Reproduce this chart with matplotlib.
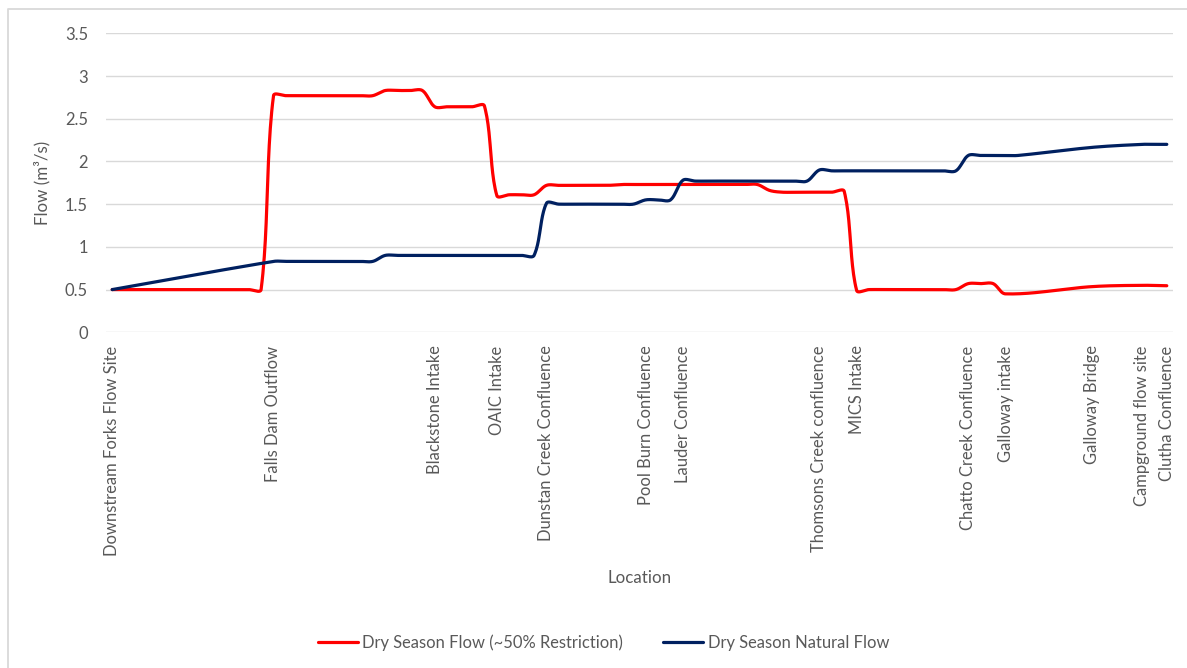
import numpy as np
import matplotlib
matplotlib.use("Agg")
import matplotlib.pyplot as plt
from matplotlib.lines import Line2D

plt.rcParams['font.family'] = ['Lato', 'DejaVu Sans']

nan = np.nan

# ---- data -------------------------------------------------------------
# 86 locations along the river (index 0..85); only some carry a name
label_index = [0, 13, 26, 31, 35, 43, 46, 57, 60, 69, 72, 79, 83, 85]
label_names = ["Downstream Forks Flow Site", "Falls Dam Outflow", "Blackstone Intake",
               "OAIC Intake", "Dunstan Creek Confluence", "Pool Burn Confluence",
               "Lauder Confluence", "Thomsons Creek confluence", "MICS Intake",
               "Chatto Creek Confluence", "Galloway intake", "Galloway Bridge",
               "Campground flow site", "Clutha Confluence"]

restricted_flow = (
    [0.50] * 13 +                  # 0-12
    [2.77] * 9 +                   # 13-21
    [2.83] * 4 +                   # 22-25
    [2.64] * 4 +                   # 26-29
    [2.65] +                       # 30
    [1.60] +                       # 31
    [1.61] * 3 +                   # 32-34
    [1.72] * 6 +                   # 35-40
    [1.73] * 12 +                  # 41-52
    [1.66] +                       # 53
    [1.64] * 5 +                   # 54-58
    [1.65] +                       # 59
    [0.49] +                       # 60
    [0.50] * 8 +                   # 61-68
    [0.57] * 3 +                   # 69-71
    [0.45] +                       # 72
    [nan] * 6 +                    # 73-78
    [0.535] +                      # 79
    [nan] * 3 +                    # 80-82
    [0.55] +                       # 83
    [nan] +                        # 84
    [0.545]                        # 85
)

natural_flow = (
    [0.50] +                       # 0
    [nan] * 12 +                   # 1-12
    [0.83] * 9 +                   # 13-21
    [0.90] * 13 +                  # 22-34
    [1.51] +                       # 35
    [1.50] * 7 +                   # 36-42
    [1.55] * 3 +                   # 43-45
    [1.78] +                       # 46
    [1.77] * 10 +                  # 47-56
    [1.90] +                       # 57
    [1.89] * 11 +                  # 58-68
    [2.07] * 5 +                   # 69-73
    [nan] * 5 +                    # 74-78
    [2.165] +                      # 79
    [nan] * 3 +                    # 80-82
    [2.20] * 3                     # 83-85
)

series_names = ["Dry Season Flow (~50% Restriction)", "Dry Season Natural Flow"]
y_ticks = [0, 0.5, 1, 1.5, 2, 2.5, 3, 3.5]

# ---- figure -----------------------------------------------------------
W, H = 1187, 668
fig = plt.figure(figsize=(W / 100, H / 100), dpi=100)
ax = fig.add_axes([106 / W, (H - 332.3) / H, 1067 / W, 299 / H])

n_loc = len(restricted_flow)
ax.set_xlim(-0.5, n_loc - 0.5)
ax.set_ylim(0, 3.5)

TEXT = "#595959"
GRID = "#d9d9d9"
FS = 11.9


def excel_smooth(ax, xs, ys, n=24):
    """Bezier smoothing similar to a spreadsheet 'smoothed line' (display space)."""
    xs = np.asarray(xs, float)
    ys = np.asarray(ys, float)
    m = ~np.isnan(ys)
    P = ax.transData.transform(np.column_stack([xs[m], ys[m]]))
    N = len(P)
    d = np.linalg.norm(np.diff(P, axis=0), axis=1)
    T = np.zeros_like(P)
    for i in range(N):
        if i == 0:
            T[i] = (P[1] - P[0]) / d[0]
        elif i == N - 1:
            T[i] = (P[-1] - P[-2]) / d[-1]
        else:
            T[i] = (P[i + 1] - P[i - 1]) / (d[i - 1] + d[i])
    t = np.linspace(0, 1, n)[:, None]
    out = [P[:1]]
    for i in range(N - 1):
        p0, p3 = P[i], P[i + 1]
        p1 = p0 + T[i] * d[i] / 3
        p2 = p3 - T[i + 1] * d[i] / 3
        seg = ((1 - t) ** 3) * p0 + 3 * ((1 - t) ** 2) * t * p1 + 3 * (1 - t) * t ** 2 * p2 + t ** 3 * p3
        out.append(seg[1:])
    curve = np.vstack(out)
    data = ax.transData.inverted().transform(curve)
    return data[:, 0], data[:, 1]


x_idx = np.arange(n_loc)
cx, cy = excel_smooth(ax, x_idx, restricted_flow)
l1, = ax.plot(cx, cy, color="#FF0000", lw=2.3, solid_capstyle="round",
              solid_joinstyle="round", label=series_names[0], zorder=3)
cx, cy = excel_smooth(ax, x_idx, natural_flow)
l2, = ax.plot(cx, cy, color="#002060", lw=2.3, solid_capstyle="round",
              solid_joinstyle="round", label=series_names[1], zorder=3)

# axes styling
ax.set_yticks(y_ticks)
ax.set_yticklabels([f"{v:g}" for v in y_ticks])
ax.set_xticks(label_index)
ax.set_xticklabels(label_names, rotation=90, va="top", ha="center")
ax.grid(axis="y", color=GRID, lw=1.0)
ax.set_axisbelow(True)
for s in ax.spines.values():
    s.set_visible(False)
ax.tick_params(axis="both", length=0, colors=TEXT, labelsize=FS)
ax.tick_params(axis="x", pad=9.5)
ax.tick_params(axis="y", pad=13)

ax.set_xlabel("Location", color=TEXT, fontsize=12.2)
ax.xaxis.set_label_coords(0.5, -(570 - 332.3) / 299)
ax.set_ylabel("Flow (m³/s)", color=TEXT, fontsize=12.2)
ax.yaxis.set_label_coords(-(106 - 50) / 1067, 0.5)

leg = fig.legend(handles=[l1, l2], loc="center", bbox_to_anchor=(603.5 / W, 1 - 643 / H),
                 ncol=2, frameon=False, fontsize=FS, handlelength=2.4,
                 handletextpad=0.3, columnspacing=2.4)
for txt in leg.get_texts():
    txt.set_color(TEXT)

# chart border (top and left visible)
fig.add_artist(Line2D([7.5 / W, 7.5 / W, 1.0], [0.0, 1 - 9 / H, 1 - 9 / H],
                      transform=fig.transFigure, color=GRID, lw=1.3))

fig.savefig("out.png", dpi=100, facecolor="white")
